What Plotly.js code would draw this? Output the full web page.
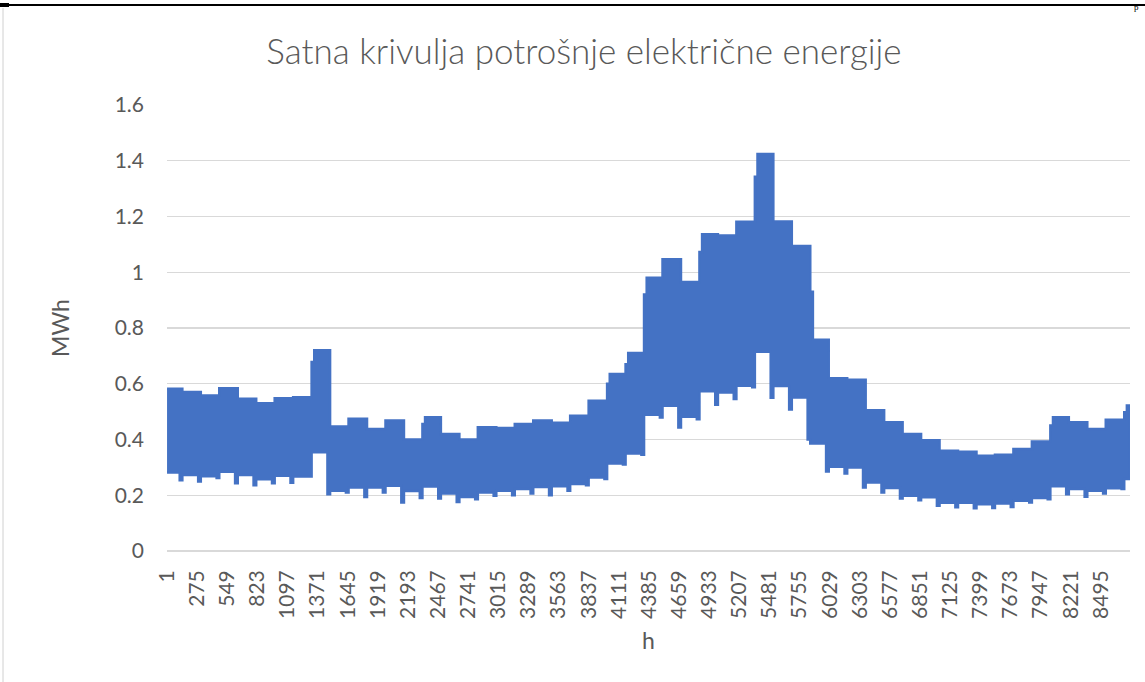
<!DOCTYPE html>
<html>
<head>
<meta charset="utf-8">
<script src="https://cdn.plot.ly/plotly-3.0.1.min.js"></script>
<style>
  html, body { margin: 0; padding: 0; background: #ffffff; }
  #chart { width: 1145px; height: 682px; }
</style>
</head>
<body>
<div id="chart"></div>
<script>
// ---- data (hour index, MWh) ----
// first hour of each weekly block of the hourly series
const weekStart = [1, 140, 308, 476, 644, 812, 980, 1148, 1316, 1484, 1652, 1820, 1988, 2156, 2324, 2492, 2660, 2828, 2996, 3164, 3332, 3500, 3668, 3836, 4004, 4172, 4340, 4508, 4676, 4844, 5012, 5180, 5348, 5516, 5684, 5852, 6020, 6188, 6356, 6524, 6692, 6860, 7028, 7196, 7364, 7532, 7700, 7868, 8036, 8204, 8372, 8540, 8708];
const lastHour = 8760;
// weekly maximum of hourly consumption
const weekMax = [0.582, 0.570, 0.558, 0.584, 0.546, 0.530, 0.548, 0.552, 0.720, 0.447, 0.474, 0.438, 0.468, 0.400, 0.480, 0.420, 0.400, 0.444, 0.441, 0.456, 0.468, 0.460, 0.485, 0.539, 0.635, 0.710, 0.980, 1.047, 0.965, 1.136, 1.132, 1.181, 1.424, 1.182, 1.094, 0.758, 0.620, 0.614, 0.505, 0.462, 0.420, 0.397, 0.360, 0.356, 0.342, 0.345, 0.366, 0.393, 0.480, 0.462, 0.438, 0.471, 0.522];
// maximum on the first day of each week
const firstDayMax = [0.582, 0.570, 0.558, 0.584, 0.546, 0.530, 0.548, 0.552, 0.678, 0.447, 0.474, 0.438, 0.468, 0.400, 0.456, 0.420, 0.400, 0.444, 0.441, 0.456, 0.468, 0.460, 0.485, 0.539, 0.600, 0.670, 0.920, 1.047, 0.965, 1.073, 1.132, 1.181, 1.343, 1.182, 1.094, 0.930, 0.620, 0.614, 0.505, 0.462, 0.420, 0.397, 0.360, 0.356, 0.342, 0.345, 0.366, 0.393, 0.450, 0.462, 0.438, 0.471, 0.498];
// weekday minimum of each week
const weekMin = [0.282, 0.273, 0.268, 0.284, 0.273, 0.257, 0.270, 0.267, 0.354, 0.216, 0.228, 0.228, 0.234, 0.215, 0.231, 0.206, 0.194, 0.210, 0.216, 0.222, 0.230, 0.232, 0.240, 0.264, 0.314, 0.350, 0.489, 0.521, 0.482, 0.573, 0.569, 0.593, 0.715, 0.592, 0.551, 0.386, 0.302, 0.300, 0.246, 0.226, 0.198, 0.193, 0.173, 0.173, 0.168, 0.170, 0.180, 0.190, 0.232, 0.222, 0.216, 0.225, 0.258];
// minimum on the last day (weekend) of each week
const weekendMin = [0.254, 0.249, 0.262, 0.243, 0.236, 0.243, 0.245, 0.267, 0.204, 0.210, 0.194, 0.210, 0.174, 0.190, 0.188, 0.176, 0.186, 0.198, 0.200, 0.206, 0.200, 0.216, 0.236, 0.258, 0.310, 0.345, 0.479, 0.443, 0.473, 0.525, 0.545, 0.587, 0.550, 0.508, 0.400, 0.285, 0.278, 0.228, 0.210, 0.188, 0.182, 0.162, 0.157, 0.153, 0.154, 0.158, 0.174, 0.186, 0.204, 0.195, 0.206, 0.222, 0.258];
// category tick labels shown on the x axis
const tickLabels = [1, 275, 549, 823, 1097, 1371, 1645, 1919, 2193, 2467, 2741, 3015, 3289, 3563, 3837, 4111, 4385, 4659, 4933, 5207, 5481, 5755, 6029, 6303, 6577, 6851, 7125, 7399, 7673, 7947, 8221, 8495];
const yTicks = [0, 0.2, 0.4, 0.6, 0.8, 1, 1.2, 1.4, 1.6];

// ---- build the envelope of the hourly curve (band between daily highs and lows) ----
const DAY = 24;
const upX = [], upY = [], loX = [], loY = [];
for (let i = 0; i < weekStart.length; i++) {
  const s = weekStart[i];
  const e = (i + 1 < weekStart.length) ? weekStart[i + 1] : lastHour;
  upX.push(s, s + DAY, s + DAY, e);
  upY.push(firstDayMax[i], firstDayMax[i], weekMax[i], weekMax[i]);
  loX.push(s, e - DAY, e - DAY, e);
  loY.push(weekMin[i], weekMin[i], weekendMin[i], weekendMin[i]);
}
const polyX = upX.concat(loX.slice().reverse());
const polyY = upY.concat(loY.slice().reverse());

const BLUE = '#4472C4';
const TXT = '#595959';
const FONT = 'Lato, "Open Sans", sans-serif';

const trace = {
  type: 'scatter',
  mode: 'lines',
  x: polyX,
  y: polyY,
  fill: 'toself',
  fillcolor: BLUE,
  line: { color: BLUE, width: 2.5, shape: 'linear' },
  hoverinfo: 'skip',
  showlegend: false
};

const L = 167, R = 15, T = 105, B = 131;
const PW = 1145 - L - R, PH = 682 - T - B;
function px(x) { return (x - L) / PW; }
function py(y) { return (682 - B - y) / PH; }

const layout = {
  width: 1145,
  height: 682,
  margin: { l: L, r: R, t: T, b: B, pad: 0 },
  paper_bgcolor: '#ffffff',
  plot_bgcolor: '#ffffff',
  font: { family: FONT, color: TXT, size: 21 },
  title: {
    text: 'Satna krivulja potrošnje električne energije',
    font: { family: FONT, size: 35, color: TXT, weight: 300 },
    xref: 'container', x: 0.51, xanchor: 'center',
    yref: 'container', y: 1 - 52 / 682, yanchor: 'middle'
  },
  xaxis: {
    range: [0.5, lastHour + 0.5],
    tickmode: 'array',
    tickvals: tickLabels,
    ticktext: tickLabels.map(String),
    tickangle: -90,
    ticks: '',
    showgrid: false,
    zeroline: false,
    showline: false,
    ticklabelstandoff: 14,
    tickfont: { family: FONT, size: 21, color: TXT },
    title: { text: 'h', font: { family: FONT, size: 23, color: TXT }, standoff: 14 },
    fixedrange: true
  },
  yaxis: {
    range: [0, 1.6],
    tickmode: 'array',
    tickvals: yTicks,
    ticktext: yTicks.map(String),
    ticks: '',
    showgrid: true,
    gridcolor: '#D9D9D9',
    gridwidth: 1.3,
    zeroline: true,
    zerolinecolor: '#D9D9D9',
    zerolinewidth: 1.3,
    showline: false,
    ticklabelstandoff: 22,
    tickfont: { family: FONT, size: 21, color: TXT },
    title: { text: 'MWh', font: { family: FONT, size: 23, color: TXT }, standoff: 38 },
    fixedrange: true
  },
  shapes: [
    { type: 'line', xref: 'paper', yref: 'paper', x0: px(0), x1: px(1145), y0: py(5), y1: py(5),
      line: { color: '#000000', width: 2 } },
    { type: 'line', xref: 'paper', yref: 'paper', x0: px(0), x1: px(9), y0: py(5), y1: py(5),
      line: { color: '#000000', width: 4 } },
    { type: 'line', xref: 'paper', yref: 'paper', x0: px(3), x1: px(3), y0: py(8), y1: py(682),
      line: { color: '#D0D0D0', width: 1 } }
  ],
  annotations: [
    { text: 'p', xref: 'paper', yref: 'paper', x: px(1136), y: py(1), showarrow: false,
      font: { family: 'Liberation Serif, serif', size: 9, color: '#000000' },
      xanchor: 'center', yanchor: 'top', borderpad: 0 }
  ]
};

Plotly.newPlot('chart', [trace], layout, { displayModeBar: false, staticPlot: true });
</script>
</body>
</html>
